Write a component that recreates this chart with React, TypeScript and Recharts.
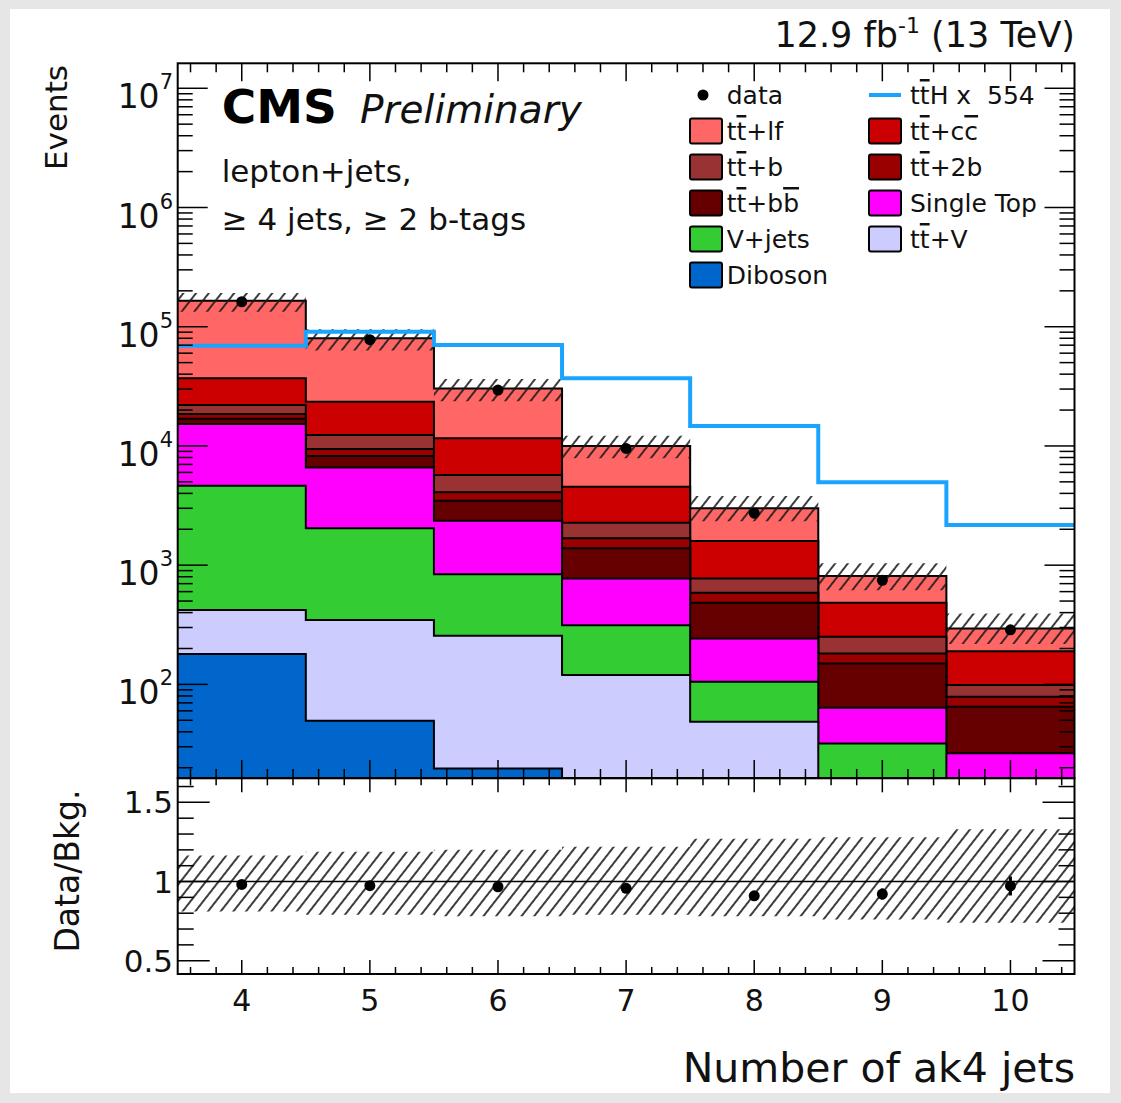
import React from "react";
import { ComposedChart, Area, Line, Scatter, XAxis, YAxis, ReferenceLine, ErrorBar } from "recharts";

// bin centres (number of ak4 jets)
const bins = [4, 5, 6, 7, 8, 9, 10];

// background components, bottom of the stack first
const diboson = [180, 49.5, 19.7, 8, 4, 2, 1];
const ttV = [240, 297, 236, 112, 44.5, 6, 4];
const vJets = [4210, 1691, 582, 194, 56.5, 24, 8];
const singleTop = [10670, 4573, 1517, 460, 138, 31.7, 13.4];
const ttbb = [1620, 1610, 1115, 610, 241, 86.3, 38.5];
const tt2b = [1640, 1200, 610, 296, 102, 32, 13.8];
const ttb = [3490, 2910, 1620, 588, 188, 69, 20];
const ttcc = [14870, 11170, 5890, 2282, 819, 233, 91.3];
const ttlf = [128100, 56500, 18810, 5420, 1407, 327, 105];

const dataEvents = [162000, 77900, 29400, 9540, 2730, 747, 287];
const tthScaled = [69300, 90800, 70100, 36900, 14700, 4960, 2170];

// ratio panel
const ratio = [0.982, 0.974, 0.967, 0.957, 0.91, 0.921, 0.972];
const ratioErr = [0.003, 0.004, 0.006, 0.01, 0.019, 0.035, 0.06];
const uncUp = [0.165, 0.188, 0.2, 0.22, 0.27, 0.28, 0.33];
const uncDown = [0.19, 0.21, 0.22, 0.21, 0.22, 0.24, 0.26];

const ratioMajor = [0.5, 1, 1.5];

const stack = [
  { key: "dib", color: "#0066CC", values: diboson },
  { key: "ttv", color: "#CCCCFF", values: ttV },
  { key: "vj", color: "#33CC33", values: vJets },
  { key: "st", color: "#FF00FF", values: singleTop },
  { key: "ttbb", color: "#660000", values: ttbb },
  { key: "tt2b", color: "#990000", values: tt2b },
  { key: "ttb", color: "#993333", values: ttb },
  { key: "ttcc", color: "#CC0000", values: ttcc },
  { key: "ttlf", color: "#FF6666", values: ttlf },
];

const legendLeft = [
  { label: "data", kind: "dot", color: "#000" },
  { label: "t^t+lf", kind: "box", color: "#FF6666" },
  { label: "t^t+b", kind: "box", color: "#993333" },
  { label: "t^t+b^b", kind: "box", color: "#660000" },
  { label: "V+jets", kind: "box", color: "#33CC33" },
  { label: "Diboson", kind: "box", color: "#0066CC" },
];
const legendRight = [
  { label: "t^tH x  554", kind: "line", color: "#1aa3ff" },
  { label: "t^t+c^c", kind: "box", color: "#CC0000" },
  { label: "t^t+2b", kind: "box", color: "#990000" },
  { label: "Single Top", kind: "box", color: "#FF00FF" },
  { label: "t^t+V", kind: "box", color: "#CCCCFF" },
];

const FONT = "'DejaVu Sans', 'Liberation Sans', sans-serif";
const W = 1121;
const H = 1103;
const plot = { left: 177.7, right: 1074.5, top: 63.3, bottom: 778, rTop: 778.3, rBottom: 974 };

// step rows on bin edges
const edges = [...bins.map((b) => b - 0.5), bins[bins.length - 1] + 0.5];
const rows = edges.map((x, i) => {
  const j = Math.min(i, bins.length - 1);
  const row: any = { x };
  let cum = 0;
  stack.forEach((s) => {
    cum += s.values[j];
    row[s.key] = cum;
  });
  row.band = [cum * (1 - uncDown[j]), cum * (1 + uncUp[j])];
  row.rband = [1 - uncDown[j], 1 + uncUp[j]];
  row.tth = tthScaled[j];
  return row;
});

const dataPoints = bins.map((b, i) => ({ x: b, y: dataEvents[i] }));
const ratioPoints = bins.map((b, i) => ({ x: b, y: ratio[i], err: ratioErr[i] }));

const xTicks: number[] = [];
for (let k = 36; k <= 104; k += 2) xTicks.push(k / 10);

const logTicks: number[] = [];
for (let e = 1; e <= 7; e++) {
  for (let m = 1; m <= 9; m++) {
    const v = m * Math.pow(10, e);
    if (v >= 16.4 && v <= 1.62e7) logTicks.push(v);
  }
}

const ratioTicks: number[] = [];
for (let k = 5; k <= 16; k++) ratioTicks.push(k / 10);

const isInt = (v: number) => Math.abs(v - Math.round(v)) < 1e-6;

function MainXTick(props: any) {
  const { x, payload } = props;
  const len = isInt(payload.value) ? 18 : 9;
  return (
    <g>
      <line x1={x} x2={x} y1={plot.bottom} y2={plot.bottom - len} stroke="#000" strokeWidth={1.5} />
      <line x1={x} x2={x} y1={plot.top} y2={plot.top + len} stroke="#000" strokeWidth={1.5} />
    </g>
  );
}

function RatioXTick(props: any) {
  const { x, payload } = props;
  const major = isInt(payload.value);
  const len = major ? 14 : 7;
  return (
    <g>
      <line x1={x} x2={x} y1={plot.rBottom} y2={plot.rBottom - len} stroke="#000" strokeWidth={1.5} />
      <line x1={x} x2={x} y1={plot.rTop} y2={plot.rTop + len} stroke="#000" strokeWidth={1.5} />
      {major && (
        <text x={x} y={plot.rBottom + 37} textAnchor="middle" fontFamily={FONT} fontSize={30} fill="#111">
          {Math.round(payload.value)}
        </text>
      )}
    </g>
  );
}

function LogYTick(props: any) {
  const { y, payload } = props;
  const e = Math.log10(payload.value);
  const major = isInt(e);
  const len = major ? 30 : 15;
  return (
    <g>
      <line x1={plot.left} x2={plot.left + len} y1={y} y2={y} stroke="#000" strokeWidth={1.5} />
      <line x1={plot.right - len} x2={plot.right} y1={y} y2={y} stroke="#000" strokeWidth={1.5} />
      {major && (
        <text x={173} y={y + 20} textAnchor="end" fontFamily={FONT} fontSize={33} fill="#111">
          10
          <tspan dy={-19} fontSize={21}>
            {Math.round(e)}
          </tspan>
        </text>
      )}
    </g>
  );
}

function RatioYTick(props: any) {
  const { y, payload } = props;
  const major = ratioMajor.some((m) => Math.abs(m - payload.value) < 1e-6);
  const len = major ? 32 : 16;
  return (
    <g>
      <line x1={plot.left} x2={plot.left + len} y1={y} y2={y} stroke="#000" strokeWidth={1.5} />
      <line x1={plot.right - len} x2={plot.right} y1={y} y2={y} stroke="#000" strokeWidth={1.5} />
      {major && (
        <text x={173} y={y + 11} textAnchor="end" fontFamily={FONT} fontSize={31} fill="#111">
          {String(payload.value)}
        </text>
      )}
    </g>
  );
}

// "^x" puts a bar over x
function Barred({ text }: { text: string }) {
  const parts = text.split(/(\^.)/).filter((p) => p.length > 0);
  return (
    <>
      {parts.map((p, i) =>
        p[0] === "^" ? (
          <tspan key={i} style={{ textDecoration: "overline" }}>
            {p[1]}
          </tspan>
        ) : (
          <tspan key={i}>{p}</tspan>
        )
      )}
    </>
  );
}

function LegendColumn({ items, boxX, textX }: { items: typeof legendLeft; boxX: number; textX: number }) {
  return (
    <g>
      {items.map((it, i) => {
        const cy = 95 + i * 36;
        return (
          <g key={it.label}>
            {it.kind === "box" && (
              <rect x={boxX} y={cy - 12.5} width={32} height={25} fill={it.color} stroke="#000" strokeWidth={2} rx={2} />
            )}
            {it.kind === "dot" && <circle cx={boxX + 13} cy={cy} r={5.5} fill="#000" />}
            {it.kind === "line" && (
              <line x1={boxX} x2={boxX + 32} y1={cy} y2={cy} stroke={it.color} strokeWidth={4} />
            )}
            <text x={textX} y={cy + 9} fontFamily={FONT} fontSize={25} fill="#111" style={{ whiteSpace: "pre" }}>
              <Barred text={it.label} />
            </text>
          </g>
        );
      })}
    </g>
  );
}

function Dot(props: any) {
  return <circle cx={props.cx} cy={props.cy} r={5.5} fill="#000" />;
}

function Hatch({ id }: { id: string }) {
  return (
    <defs>
      <pattern id={id} patternUnits="userSpaceOnUse" width={10} height={10} patternTransform="rotate(38)">
        <line x1={5} y1={0} x2={5} y2={10} stroke="#1a1a1a" strokeWidth={1.7} />
      </pattern>
    </defs>
  );
}

// axes need a non-zero box to be drawn
const AX = 1;

export default function App() {
  return (
    <div style={{ position: "absolute", left: 0, top: 0, width: W, height: H, background: "#e6e6e6", overflow: "hidden" }}>
      <div style={{ position: "absolute", left: 10, top: 9, width: 1100, height: 1084, background: "#fff" }} />

      {/* main panel */}
      <div style={{ position: "absolute", left: 0, top: 0 }}>
        <ComposedChart
          width={W}
          height={H}
          data={rows}
          margin={{ top: plot.top, right: W - plot.right, bottom: H - plot.bottom - AX, left: plot.left - AX }}
        >
          <Hatch id="hatchMain" />
          {[...stack].reverse().map((s) => (
            <Area
              key={s.key}
              dataKey={s.key}
              type="stepAfter"
              baseValue="dataMin"
              fill={s.color}
              fillOpacity={1}
              stroke="#000"
              strokeWidth={2}
              dot={false}
              activeDot={false}
              isAnimationActive={false}
            />
          ))}
          <Area
            dataKey="band"
            type="stepAfter"
            fill="url(#hatchMain)"
            fillOpacity={1}
            stroke="none"
            dot={false}
            activeDot={false}
            isAnimationActive={false}
          />
          <Line dataKey="tth" type="stepAfter" stroke="#1aa3ff" strokeWidth={4} dot={false} activeDot={false} isAnimationActive={false} />
          <Scatter data={dataPoints} dataKey="y" shape={<Dot />} isAnimationActive={false} />
          <XAxis
            dataKey="x"
            type="number"
            domain={[3.5, 10.5]}
            allowDataOverflow
            ticks={xTicks}
            interval={0}
            height={AX}
            tickSize={0}
            tickMargin={0}
            axisLine={false}
            tickLine={false}
            tick={(p: any) => <MainXTick {...p} />}
          />
          <YAxis
            type="number"
            scale="log"
            domain={[16.4, 1.62e7]}
            allowDataOverflow
            ticks={logTicks}
            interval={0}
            width={AX}
            tickSize={0}
            tickMargin={0}
            axisLine={false}
            tickLine={false}
            tick={(p: any) => <LogYTick {...p} />}
          />
        </ComposedChart>
      </div>

      {/* ratio panel */}
      <div style={{ position: "absolute", left: 0, top: 0 }}>
        <ComposedChart
          width={W}
          height={H}
          data={rows}
          margin={{ top: plot.rTop, right: W - plot.right, bottom: H - plot.rBottom - AX, left: plot.left - AX }}
        >
          <Hatch id="hatchRatio" />
          <Area
            dataKey="rband"
            type="stepAfter"
            fill="url(#hatchRatio)"
            fillOpacity={1}
            stroke="none"
            dot={false}
            activeDot={false}
            isAnimationActive={false}
          />
          <ReferenceLine y={1} stroke="#000" strokeWidth={1.6} />
          <Scatter data={ratioPoints} dataKey="y" shape={<Dot />} isAnimationActive={false}>
            <ErrorBar dataKey="err" direction="y" width={0} stroke="#000" strokeWidth={3} />
          </Scatter>
          <XAxis
            dataKey="x"
            type="number"
            domain={[3.5, 10.5]}
            allowDataOverflow
            ticks={xTicks}
            interval={0}
            height={AX}
            tickSize={0}
            tickMargin={0}
            axisLine={false}
            tickLine={false}
            tick={(p: any) => <RatioXTick {...p} />}
          />
          <YAxis
            type="number"
            domain={[0.416, 1.652]}
            allowDataOverflow
            ticks={ratioTicks}
            interval={0}
            width={AX}
            tickSize={0}
            tickMargin={0}
            axisLine={false}
            tickLine={false}
            tick={(p: any) => <RatioYTick {...p} />}
          />
        </ComposedChart>
      </div>

      {/* frames, titles and legend */}
      <svg width={W} height={H} style={{ position: "absolute", left: 0, top: 0, pointerEvents: "none" }}>
        <rect x={plot.left} y={plot.top} width={plot.right - plot.left} height={plot.bottom - plot.top} fill="none" stroke="#000" strokeWidth={2} />
        <rect x={plot.left} y={plot.rTop} width={plot.right - plot.left} height={plot.rBottom - plot.rTop} fill="none" stroke="#000" strokeWidth={2} />

        <text x={1075} y={46.7} textAnchor="end" fontFamily={FONT} fontSize={35} fill="#111" style={{ whiteSpace: "pre" }}>
          12.9 fb<tspan dy={-14} fontSize={22}>-1</tspan>
          <tspan dy={14}> (13 TeV)</tspan>
        </text>

        <text x={221.7} y={123.3} fontFamily={FONT} fontSize={47} fontWeight="bold" fill="#000">CMS</text>
        <text x={360} y={123.3} fontFamily={FONT} fontSize={39} fontStyle="italic" fill="#111">Preliminary</text>
        <text x={221.7} y={181.7} fontFamily={FONT} fontSize={31} fill="#111">lepton+jets,</text>
        <text x={221.7} y={230} fontFamily={FONT} fontSize={31} fill="#111">≥ 4 jets, ≥ 2 b-tags</text>

        <LegendColumn items={legendLeft} boxX={690} textX={726.7} />
        <LegendColumn items={legendRight} boxX={869} textX={910} />

        <text transform="translate(67,65) rotate(-90)" textAnchor="end" fontFamily={FONT} fontSize={31} fill="#111">Events</text>
        <text transform="translate(79,871) rotate(-90)" textAnchor="middle" fontFamily={FONT} fontSize={33} fill="#111">Data/Bkg.</text>
        <text x={1075} y={1082} textAnchor="end" fontFamily={FONT} fontSize={41} fill="#111">Number of ak4 jets</text>
      </svg>
    </div>
  );
}
